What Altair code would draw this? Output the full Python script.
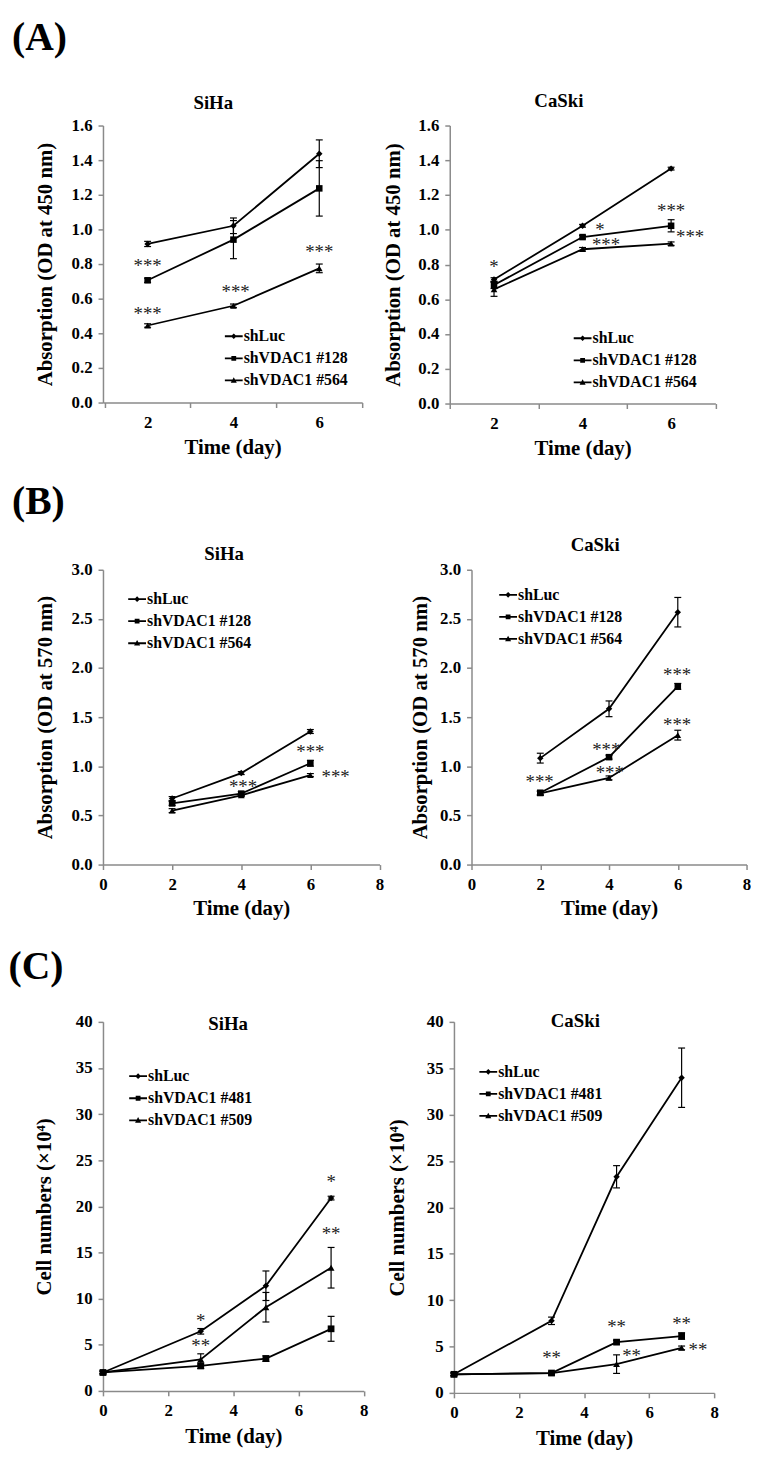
import altair as alt
import pandas as pd

SERIF = "Liberation Serif"
GREY = "#8a8a8a"

# ---------------- data ----------------
days_ab = [2, 4, 6]
days_c = [0, 3, 5, 7]
series_ab = ["shLuc", "shVDAC1 #128", "shVDAC1 #564"]
series_c = ["shLuc", "shVDAC1 #481", "shVDAC1 #509"]

# (A) SiHa, OD 450
a_siha_luc = [0.916, 1.021, 1.437]
a_siha_128 = [0.706, 0.941, 1.237]
a_siha_564 = [0.445, 0.559, 0.775]
a_siha_luc_err = [0.015, 0.045, 0.08]
a_siha_128_err = [0.012, 0.11, 0.16]
a_siha_564_err = [0.01, 0.01, 0.025]
a_siha_star_day = [2, 4.05, 2, 6]
a_siha_star_val = [0.807, 0.655, 0.531, 0.884]
a_siha_star_txt = ["***", "***", "***", "***"]

# (A) CaSki, OD 450
a_caski_luc = [0.714, 1.023, 1.352]
a_caski_128 = [0.682, 0.958, 1.023]
a_caski_564 = [0.657, 0.888, 0.920]
a_caski_luc_err = [0.01, 0.008, 0.008]
a_caski_128_err = [0.02, 0.01, 0.035]
a_caski_564_err = [0.04, 0.01, 0.01]
a_caski_star_day = [2, 4.39, 4.53, 6, 6.43]
a_caski_star_val = [0.80, 1.014, 0.93, 1.127, 0.977]
a_caski_star_txt = ["*", "*", "***", "***", "***"]

# (B) SiHa, OD 570
b_siha_luc = [0.672, 0.931, 1.354]
b_siha_128 = [0.622, 0.722, 1.031]
b_siha_564 = [0.549, 0.705, 0.911]
b_siha_luc_err = [0.02, 0.015, 0.02]
b_siha_128_err = [0.02, 0.02, 0.03]
b_siha_564_err = [0.02, 0.015, 0.015]
b_siha_star_day = [4.05, 6.0, 6.73]
b_siha_star_val = [0.82, 1.18, 0.92]
b_siha_star_txt = ["***", "***", "***"]

# (B) CaSki, OD 570
b_caski_luc = [1.083, 1.585, 2.568]
b_caski_128 = [0.731, 1.093, 1.813]
b_caski_564 = [0.724, 0.882, 1.317]
b_caski_luc_err = [0.05, 0.08, 0.15]
b_caski_128_err = [0.02, 0.02, 0.03]
b_caski_564_err = [0.02, 0.02, 0.05]
b_caski_star_day = [1.98, 3.92, 4.02, 5.98, 5.98]
b_caski_star_val = [0.865, 1.2, 0.965, 1.954, 1.45]
b_caski_star_txt = ["***", "***", "***", "***", "***"]

# (C) SiHa, cell numbers (x10^4)
c_siha_luc = [2.0, 6.46, 11.4, 20.9]
c_siha_481 = [2.0, 2.72, 3.5, 6.73]
c_siha_509 = [2.0, 3.42, 9.07, 13.35]
c_siha_luc_err = [0.15, 0.3, 1.6, 0.2]
c_siha_481_err = [0.15, 0.3, 0.3, 1.35]
c_siha_509_err = [0.15, 0.6, 1.6, 2.2]
c_siha_star_day = [7, 7, 3, 3]
c_siha_star_val = [23.0, 17.3, 7.9, 5.2]
c_siha_star_txt = ["*", "**", "*", "**"]

# (C) CaSki, cell numbers (x10^4)
c_caski_luc = [2.0, 7.77, 23.3, 33.98]
c_caski_481 = [2.0, 2.14, 5.47, 6.13]
c_caski_509 = [2.0, 2.14, 3.1, 4.85]
c_caski_luc_err = [0.15, 0.4, 1.2, 3.2]
c_caski_481_err = [0.15, 0.1, 0.2, 0.35]
c_caski_509_err = [0.15, 0.1, 1.0, 0.2]
c_caski_star_day = [3, 5, 7, 5.46, 7.5]
c_caski_star_val = [4.08, 7.4, 7.7, 4.3, 4.97]
c_caski_star_txt = ["**", "**", "**", "**", "**"]

# ---------------- styling ----------------
POINT_SHAPES = ["diamond", "square", "triangle-up"]
POINT_SIZES = [42, 48, 50]
# legend glyphs: a short line with the series marker on it (filled paths)
LEGEND_SHAPES = [
    "M-1,-0.1H1V0.1H-1Z M0,-0.32L0.32,0L0,0.32L-0.32,0Z",
    "M-1,-0.1H1V0.1H-1Z M-0.27,-0.27H0.27V0.27H-0.27Z",
    "M-1,-0.1H1V0.1H-1Z M0,-0.36L0.34,0.26H-0.34Z",
]


def make_df(days, names, vals, errs):
    rows = []
    for name, v, e in zip(names, vals, errs):
        for d, vv, ee in zip(days, v, e):
            rows.append({"day": d, "value": vv, "err": ee, "series": name})
    return pd.DataFrame(rows)


def make_stars(days, vals, txt):
    return pd.DataFrame({"day": days, "value": vals, "label": txt})


def panel(df, sdf, names, ptitle, ytitle, xdom, xvals, a_style, ydom, yvals, yfmt,
          w, h, title_pos, lx, ly, ytp, xtp=7, tag=None, tag_pos=None):
    common = dict(labelFlush=False)
    if a_style:
        xaxis = alt.Axis(
            values=xvals, title="Time (day)", titlePadding=xtp,
            labelExpr="datum.value % 2 == 0 ? datum.label : ''",
            tickOpacity={"condition": {"test": "datum.value % 2 == 0", "value": 0}, "value": 1},
            **common,
        )
    else:
        xaxis = alt.Axis(values=xvals, title="Time (day)", titlePadding=xtp, **common)
    yaxis = alt.Axis(values=yvals, format=yfmt, title=ytitle, titlePadding=ytp, **common)
    xs = alt.Scale(domain=xdom, nice=False, zero=False)
    ys = alt.Scale(domain=ydom, nice=False, zero=False)
    X = alt.X("day:Q", scale=xs, axis=xaxis)
    Y = alt.Y("value:Q", scale=ys, axis=yaxis)

    base = alt.Chart(df)
    line = base.mark_line(color="black", strokeWidth=1.8).encode(x=X, y=Y, detail="series:N")
    eb = base.transform_calculate(lo="datum.value - datum.err", hi="datum.value + datum.err")
    rule = eb.mark_rule(color="black", strokeWidth=1.2).encode(
        x=X, y=alt.Y("lo:Q", scale=ys, axis=yaxis), y2="hi:Q")
    cap_lo = eb.mark_tick(color="black", orient="horizontal", size=7, thickness=1.2, opacity=1).encode(
        x=X, y=alt.Y("lo:Q", scale=ys, axis=yaxis))
    cap_hi = eb.mark_tick(color="black", orient="horizontal", size=7, thickness=1.2, opacity=1).encode(
        x=X, y=alt.Y("hi:Q", scale=ys, axis=yaxis))
    pts = base.mark_point(filled=True, color="black", opacity=1, strokeWidth=0).encode(
        x=X, y=Y,
        shape=alt.Shape("series:N", scale=alt.Scale(domain=names, range=POINT_SHAPES), legend=None),
        size=alt.Size("series:N", scale=alt.Scale(domain=names, range=POINT_SIZES), legend=None),
    )
    leg = base.transform_filter("false").mark_point(
        filled=True, color="black", opacity=1
    ).encode(
        x=X, y=Y,
        shape=alt.Shape(
            "series:N",
            scale=alt.Scale(domain=names, range=LEGEND_SHAPES),
            legend=alt.Legend(
                orient="none", legendX=lx, legendY=ly, title=None, padding=0,
                symbolSize=324, symbolStrokeWidth=0, symbolFillColor="black",
                symbolOpacity=1,
                labelFont=SERIF, labelFontWeight="bold", labelFontSize=16,
                labelColor="black", labelOffset=1, rowPadding=5.3,
            ),
        ),
    )
    stars = alt.Chart(sdf).mark_text(
        font=SERIF, fontSize=19, color="#222222", baseline="alphabetic", dy=9
    ).encode(x=X, y=Y, text="label:N")

    # panel title (cell line name)
    ttl = alt.Chart(pd.DataFrame({"t": [ptitle]})).mark_text(
        font=SERIF, fontSize=19, fontWeight="bold", color="black", align="center", baseline="middle"
    ).encode(x=alt.value(title_pos[0]), y=alt.value(title_pos[1]), text="t:N")

    layers = [line, rule, cap_lo, cap_hi, pts, leg, stars, ttl]
    if tag is not None:
        layers.append(
            alt.Chart(pd.DataFrame({"t": [tag]})).mark_text(
                font=SERIF, fontSize=40, fontWeight="bold", color="black",
                align="left", baseline="alphabetic"
            ).encode(x=alt.value(tag_pos[0]), y=alt.value(tag_pos[1]), text="t:N")
        )

    return alt.layer(*layers).resolve_scale(shape="independent").properties(width=w, height=h)


YT_AB450 = "Absorption (OD at 450 nm)"
YT_AB570 = "Absorption (OD at 570 nm)"
YT_C = "Cell numbers (\u00d710\u2074)"
yA = [0, 0.2, 0.4, 0.6, 0.8, 1.0, 1.2, 1.4, 1.6]
yB = [0, 0.5, 1.0, 1.5, 2.0, 2.5, 3.0]
yC = [0, 5, 10, 15, 20, 25, 30, 35, 40]

pA1 = panel(make_df(days_ab, series_ab, [a_siha_luc, a_siha_128, a_siha_564],
                    [a_siha_luc_err, a_siha_128_err, a_siha_564_err]),
            make_stars(a_siha_star_day, a_siha_star_val, a_siha_star_txt),
            series_ab, "SiHa", YT_AB450, [0.96, 7], [1, 2, 3, 4, 5, 6, 7], True,
            [0, 1.6], yA, ".1f", 262, 280, (111.5, -23), 123.2, 204, 15.75, 7,
            "(A)", (-92, -76.3))
pA2 = panel(make_df(days_ab, series_ab, [a_caski_luc, a_caski_128, a_caski_564],
                    [a_caski_luc_err, a_caski_128_err, a_caski_564_err]),
            make_stars(a_caski_star_day, a_caski_star_val, a_caski_star_txt),
            series_ab, "CaSki", YT_AB450, [1, 7], [1, 2, 3, 4, 5, 6, 7], True,
            [0, 1.6], yA, ".1f", 268.5, 281, (110.3, -25), 125.3, 206, 14.4, 7)
pB1 = panel(make_df(days_ab, series_ab, [b_siha_luc, b_siha_128, b_siha_564],
                    [b_siha_luc_err, b_siha_128_err, b_siha_564_err]),
            make_stars(b_siha_star_day, b_siha_star_val, b_siha_star_txt),
            series_ab, "SiHa", YT_AB570, [0, 8], [0, 2, 4, 6, 8], False,
            [0, 3.0], yB, ".1f", 279.5, 298, (122.5, -16.3), 25.5, 20.7, 15.75, 5,
            "(B)", (-92, -56))
pB2 = panel(make_df(days_ab, series_ab, [b_caski_luc, b_caski_128, b_caski_564],
                    [b_caski_luc_err, b_caski_128_err, b_caski_564_err]),
            make_stars(b_caski_star_day, b_caski_star_val, b_caski_star_txt),
            series_ab, "CaSki", YT_AB570, [0, 8], [0, 2, 4, 6, 8], False,
            [0, 3.0], yB, ".1f", 278, 298, (125, -25), 28, 16.3, 9, 5)
pC1 = panel(make_df(days_c, series_c, [c_siha_luc, c_siha_481, c_siha_509],
                    [c_siha_luc_err, c_siha_481_err, c_siha_509_err]),
            make_stars(c_siha_star_day, c_siha_star_val, c_siha_star_txt),
            series_c, "SiHa", YT_C, [0, 8], [0, 2, 4, 6, 8], False,
            [0, 40], yC, "d", 263.5, 373, (126.5, 2), 26.5, 45.9, 20.75, 7,
            "(C)", (-95.5, -43))
pC2 = panel(make_df(days_c, series_c, [c_caski_luc, c_caski_481, c_caski_509],
                    [c_caski_luc_err, c_caski_481_err, c_caski_509_err]),
            make_stars(c_caski_star_day, c_caski_star_val, c_caski_star_txt),
            series_c, "CaSki", YT_C, [0, 8], [0, 2, 4, 6, 8], False,
            [0, 40], yC, "d", 263, 375, (122.7, -1), 25.7, 41.5, 19.3, 7)


def row(left, right, spacing):
    return alt.hconcat(left, right, spacing=spacing).resolve_scale(shape="independent")


rowA = row(pA1, pA2, 19.5)
rowB = row(pB1, pB2, 25.5)
rowC = row(pC1, pC2, 17.75)

chart = alt.vconcat(
    alt.vconcat(rowA, rowB, spacing=24).resolve_scale(shape="independent"),
    rowC, spacing=30,
).resolve_scale(shape="independent").properties(
    padding={"left": 0, "top": 2, "right": 0, "bottom": 0},
    background="white",
).configure_view(stroke=None).configure_axis(
    domainColor=GREY, domainWidth=1.5, tickColor=GREY, tickWidth=1.5, tickSize=5,
    labelFont=SERIF, labelFontWeight="bold", labelFontSize=17, labelColor="black",
    titleFont=SERIF, titleFontWeight="bold", titleFontSize=21,
    titleColor="black", grid=False,
).configure_axisX(labelPadding=7).configure_axisY(labelPadding=6)

chart.save("out.html", embed_options={"renderer": "svg", "actions": False})
